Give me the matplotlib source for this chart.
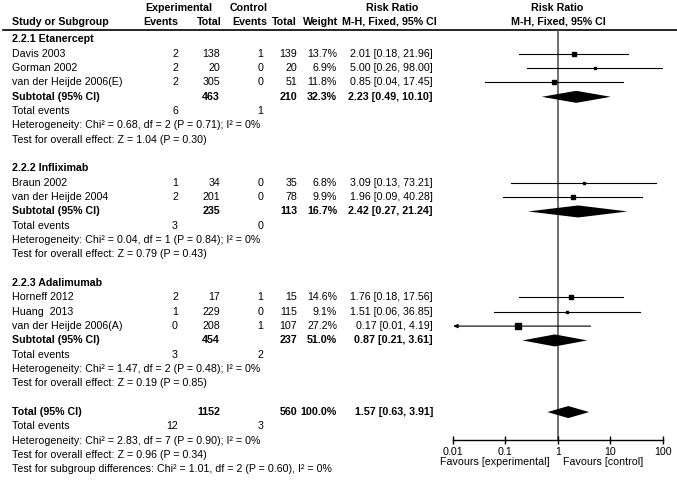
import matplotlib
matplotlib.use("Agg")
import matplotlib.pyplot as plt

plt.rcParams["font.family"] = ["Liberation Sans", "DejaVu Sans"]
plt.rcParams["font.size"] = 7.7

# ---- data -----------------------------------------------------------------
groups = ["2.2.1 Etanercept", "2.2.2 Infliximab", "2.2.3 Adalimumab"]
study_group = [0, 0, 0, 1, 1, 2, 2, 2]
studies = ["Davis 2003", "Gorman 2002", "van der Heijde 2006(E)",
           "Braun 2002", "van der Heijde 2004",
           "Horneff 2012", "Huang  2013", "van der Heijde 2006(A)"]
exp_events = [2, 2, 2, 1, 2, 2, 1, 0]
exp_total = [138, 20, 305, 34, 201, 17, 229, 208]
ctl_events = [1, 0, 0, 0, 0, 1, 0, 1]
ctl_total = [139, 20, 51, 35, 78, 15, 115, 107]
weights = [13.7, 6.9, 11.8, 6.8, 9.9, 14.6, 9.1, 27.2]
rr = [2.01, 5.00, 0.85, 3.09, 1.96, 1.76, 1.51, 0.17]
rr_lo = [0.18, 0.26, 0.04, 0.13, 0.09, 0.18, 0.06, 0.01]
rr_hi = [21.96, 98.00, 17.45, 73.21, 40.28, 17.56, 36.85, 4.19]

sub_exp_total = [463, 235, 454]
sub_ctl_total = [210, 113, 237]
sub_weight = [32.3, 16.7, 51.0]
sub_rr = [2.23, 2.42, 0.87]
sub_lo = [0.49, 0.27, 0.21]
sub_hi = [10.10, 21.24, 3.61]
sub_exp_events = [6, 3, 3]
sub_ctl_events = [1, 0, 2]
sub_het = ["Chi\u00b2 = 0.68, df = 2 (P = 0.71); I\u00b2 = 0%",
           "Chi\u00b2 = 0.04, df = 1 (P = 0.84); I\u00b2 = 0%",
           "Chi\u00b2 = 1.47, df = 2 (P = 0.48); I\u00b2 = 0%"]
sub_z = ["Z = 1.04 (P = 0.30)", "Z = 0.79 (P = 0.43)", "Z = 0.19 (P = 0.85)"]

tot_exp_total, tot_ctl_total = 1152, 560
tot_rr, tot_lo, tot_hi = 1.57, 0.63, 3.91
tot_exp_events, tot_ctl_events = 12, 3
tot_het = "Chi\u00b2 = 2.83, df = 7 (P = 0.90); I\u00b2 = 0%"
tot_z = "Z = 0.96 (P = 0.34)"
subgroup_diff = "Chi\u00b2 = 1.01, df = 2 (P = 0.60), I\u00b2 = 0%"

ticks = [0.01, 0.1, 1, 10, 100]
tick_labels = ["0.01", "0.1", "1", "10", "100"]

# ---- layout (pixels) --------------------------------------------------------
W, H = 677, 480
Y0, DY = 39.5, 14.33
COL = dict(name=12, ee=178, et=220, ce=263, ct=297, w=337, ci=433)
PLOT_L, PLOT_R, PLOT_TOP, PLOT_BOT = 453, 663, 30, 440


def ypix(i):
    return Y0 + DY * i


fig = plt.figure(figsize=(W / 100, H / 100), dpi=100)
tab = fig.add_axes([0, 0, 1, 1])
tab.set_xlim(0, W)
tab.set_ylim(H, 0)
tab.axis("off")

fa = fig.add_axes([PLOT_L / W, (H - PLOT_BOT) / H,
                   (PLOT_R - PLOT_L) / W, (PLOT_BOT - PLOT_TOP) / H])
fa.patch.set_alpha(0)
fa.set_xscale("log")
fa.set_xlim(0.01, 100)
fa.set_ylim((PLOT_BOT - Y0) / DY, (PLOT_TOP - Y0) / DY)
for s in ("top", "left", "right"):
    fa.spines[s].set_visible(False)
fa.spines["bottom"].set_linewidth(1.0)
fa.set_yticks([])
fa.set_xticks(ticks)
fa.set_xticklabels(tick_labels)
fa.minorticks_off()
fa.tick_params(axis="x", direction="inout", length=6, width=1, pad=2,
               labelsize=7.7)
fa.axvline(1, color="#555555", lw=1.2, zorder=1)


def txt(x, i, s, ha="right", bold=False):
    tab.text(x, ypix(i), s, ha=ha, va="center",
             fontweight="bold" if bold else "normal")


def diamond(i, est, lo, hi, h=0.42):
    fa.fill([lo, est, hi, est], [i, i - h, i, i + h], color="black",
            lw=0, zorder=3)


# headers
tab.text(179, 8, "Experimental", ha="center", va="center", fontweight="bold")
tab.text(249, 8, "Control", ha="center", va="center", fontweight="bold")
tab.text(392, 8, "Risk Ratio", ha="center", va="center", fontweight="bold")
tab.text(557, 8, "Risk Ratio", ha="center", va="center", fontweight="bold")
hy = 22
tab.text(COL["name"], hy, "Study or Subgroup", ha="left", va="center", fontweight="bold")
tab.text(COL["ee"], hy, "Events", ha="right", va="center", fontweight="bold")
tab.text(COL["et"] + 2, hy, "Total", ha="right", va="center", fontweight="bold")
tab.text(COL["ce"] + 4, hy, "Events", ha="right", va="center", fontweight="bold")
tab.text(COL["ct"], hy, "Total", ha="right", va="center", fontweight="bold")
tab.text(COL["w"] + 1, hy, "Weight", ha="right", va="center", fontweight="bold")
tab.text(COL["ci"] + 4, hy, "M-H, Fixed, 95% CI", ha="right", va="center", fontweight="bold")
tab.text(558, hy, "M-H, Fixed, 95% CI", ha="center", va="center", fontweight="bold")
tab.plot([3, W], [30, 30], color="black", lw=1.2)

row = 0
for g, gname in enumerate(groups):
    txt(COL["name"], row, gname, ha="left", bold=True)
    row += 1
    for k in [k for k, sg in enumerate(study_group) if sg == g]:
        txt(COL["name"], row, studies[k], ha="left")
        txt(COL["ee"], row, str(exp_events[k]))
        txt(COL["et"], row, str(exp_total[k]))
        txt(COL["ce"], row, str(ctl_events[k]))
        txt(COL["ct"], row, str(ctl_total[k]))
        txt(COL["w"], row, f"{weights[k]:.1f}%")
        txt(COL["ci"], row, f"{rr[k]:.2f} [{rr_lo[k]:.2f}, {rr_hi[k]:.2f}]")
        # CI running off the scale gets an arrow head instead of a plain end
        if rr_lo[k] <= 0.01:
            fa.annotate("", xy=(0.01, row), xytext=(rr_hi[k], row),
                        arrowprops=dict(arrowstyle="-|>,head_length=0.35,head_width=0.15",
                                        color="black", lw=0.8, shrinkA=0, shrinkB=0))
        else:
            fa.plot([rr_lo[k], rr_hi[k]], [row, row], color="black", lw=0.8, zorder=2)
        fa.plot(rr[k], row, marker="s", color="black",
                ms=0.7 * weights[k] ** 0.5, zorder=3)
        row += 1
    txt(COL["name"], row, "Subtotal (95% CI)", ha="left", bold=True)
    txt(COL["et"], row, str(sub_exp_total[g]), bold=True)
    txt(COL["ct"], row, str(sub_ctl_total[g]), bold=True)
    txt(COL["w"], row, f"{sub_weight[g]:.1f}%", bold=True)
    txt(COL["ci"], row, f"{sub_rr[g]:.2f} [{sub_lo[g]:.2f}, {sub_hi[g]:.2f}]", bold=True)
    diamond(row, sub_rr[g], sub_lo[g], sub_hi[g])
    row += 1
    txt(COL["name"], row, "Total events", ha="left")
    txt(COL["ee"], row, str(sub_exp_events[g]))
    txt(COL["ce"], row, str(sub_ctl_events[g]))
    row += 1
    txt(COL["name"], row, "Heterogeneity: " + sub_het[g], ha="left")
    row += 1
    txt(COL["name"], row, "Test for overall effect: " + sub_z[g], ha="left")
    row += 2

txt(COL["name"], row, "Total (95% CI)", ha="left", bold=True)
txt(COL["et"], row, str(tot_exp_total), bold=True)
txt(COL["ct"], row, str(tot_ctl_total), bold=True)
txt(COL["w"], row, "100.0%", bold=True)
txt(COL["ci"], row, f"{tot_rr:.2f} [{tot_lo:.2f}, {tot_hi:.2f}]", bold=True)
diamond(row, tot_rr, tot_lo, tot_hi)
row += 1
txt(COL["name"], row, "Total events", ha="left")
txt(COL["ee"], row, str(tot_exp_events))
txt(COL["ce"], row, str(tot_ctl_events))
row += 1
txt(COL["name"], row, "Heterogeneity: " + tot_het, ha="left")
row += 1
txt(COL["name"], row, "Test for overall effect: " + tot_z, ha="left")
row += 1
txt(COL["name"], row, "Test for subgroup differences: " + subgroup_diff, ha="left")

tab.text(550, 462, "Favours [experimental]", ha="right", va="center")
tab.text(563, 462, "Favours [control]", ha="left", va="center")

fig.savefig("out.png", dpi=100)
